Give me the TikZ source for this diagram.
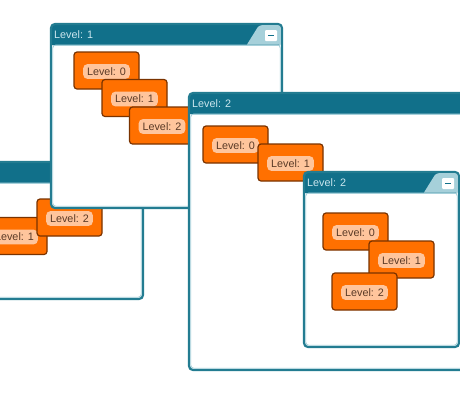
\documentclass[tikz,border=0pt]{standalone}
\usepackage{fontspec}
\setmainfont{Liberation Sans}
\usepackage{xcolor}

\definecolor{winbar}{HTML}{11708A}
\definecolor{winedge}{HTML}{237C91}
\definecolor{winlight}{HTML}{A6D0DA}
\definecolor{wintext}{HTML}{CBE6EE}
\definecolor{boxfill}{HTML}{FF7000}
\definecolor{boxedge}{HTML}{7A3300}
\definecolor{pillfill}{HTML}{FFC59C}
\definecolor{pilltext}{HTML}{5A3A26}

% one window: x1, y1, x2, y2, title
\newcommand{\levelwin}[5]{%
  \fill[white,rounded corners=4] (#1,#2) rectangle (#3,#4);
  \fill[winbar,rounded corners=4] (#1,#2+21) -- (#1,#2) -- (#3,#2) -- (#3,#2+21) [sharp corners] -- cycle;
  \draw[winlight,line width=1] (#1+2,#2+21.5) -- (#3-2,#2+21.5);
  \draw[winedge,line width=2.2,rounded corners=4] (#1,#2) rectangle (#3,#4);
  \draw[winlight,line width=0.8,rounded corners=3] (#1+1.8,#2+21) rectangle (#3-1.8,#4-1.8);
  \node[wintitle,anchor=west] at (#1+2,#2+11) {#5};
}
% slanted corner with the minimize button
\newcommand{\minbtn}[2]{%
  \fill[winlight,rounded corners=3] (#1-23,#2+1.1) -- (#1-1.1,#2+1.1) [sharp corners] -- (#1-1.1,#2+20.5) -- (#1-35,#2+20.5) [rounded corners=3] -- cycle;
  \fill[white,rounded corners=1] (#1-17,#2+6) rectangle (#1-5,#2+17);
  \draw[winbar,line width=1.6] (#1-14,#2+11.5) -- (#1-8,#2+11.5);
}

\begin{document}
\begin{tikzpicture}[x=1pt,y=-1pt,
    wintitle/.style={text=wintext,font=\fontsize{10.8}{12}\selectfont,inner sep=1pt},
    levelbox/.style={fill=boxfill,draw=boxedge,line width=1.2,rounded corners=3,
      minimum width=65,minimum height=37,inner sep=0pt},
    pill/.style={fill=pillfill,rounded corners=4.5,text=pilltext,inner xsep=4pt,inner ysep=3.5pt,
      font=\fontsize{10.8}{12}\selectfont}]
  \clip (0,0) rectangle (460,400);

  % window at the far left
  \levelwin{-30}{162}{143}{299}{}
  \node[levelbox] (a1) at (14.5,236) {};
  \node[pill] (a1t) at ([yshift=-1]a1.center) {Level: 1};
  \node[levelbox] (a2) at (69.5,217.5) {};
  \node[pill] (a2t) at ([yshift=-1]a2.center) {Level: 2};

  % window Level 1
  \levelwin{51}{24}{282}{208}{Level: 1}
  \minbtn{282}{24}
  \node[levelbox] (b0) at (106.5,70.5) {};
  \node[pill] (b0t) at ([yshift=-1]b0.center) {Level: 0};
  \node[levelbox] (b1) at (134.5,98) {};
  \node[pill] (b1t) at ([yshift=-1]b1.center) {Level: 1};
  \node[levelbox] (b2) at (162,125.5) {};
  \node[pill] (b2t) at ([yshift=-1]b2.center) {Level: 2};

  % big window Level 2
  \levelwin{189}{93}{480}{370}{Level: 2}
  \node[levelbox] (c0) at (235.5,144.5) {};
  \node[pill] (c0t) at ([yshift=-1]c0.center) {Level: 0};
  \node[levelbox] (c1) at (290.5,162.5) {};
  \node[pill] (c1t) at ([yshift=-1]c1.center) {Level: 1};

  % inner window Level 2
  \levelwin{304}{172}{459}{347}{Level: 2}
  \minbtn{459}{172}
  \node[levelbox] (d0) at (355.5,231.5) {};
  \node[pill] (d0t) at ([yshift=-1]d0.center) {Level: 0};
  \node[levelbox] (d1) at (401.5,259.5) {};
  \node[pill] (d1t) at ([yshift=-1]d1.center) {Level: 1};
  \node[levelbox] (d2) at (364.5,291.5) {};
  \node[pill] (d2t) at ([yshift=-1]d2.center) {Level: 2};
\end{tikzpicture}
\end{document}
